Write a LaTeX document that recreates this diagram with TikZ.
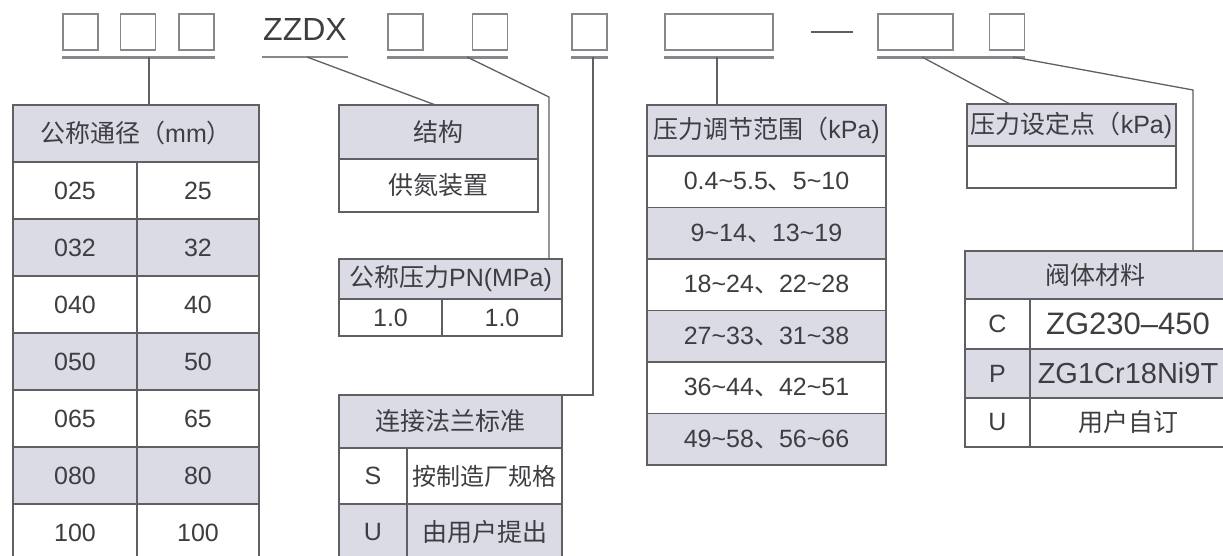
\documentclass[tikz,border=0pt]{standalone}
\usepackage{fontspec}
\setmainfont{Liberation Sans}
\newfontfamily\cjk{Noto Sans CJK SC}
\usetikzlibrary{positioning}

\newcommand\zh[1]{{\cjk #1}}
\newcommand\tld{\textasciitilde}

\definecolor{hdgray}{RGB}{218,219,229}
\definecolor{linegray}{RGB}{95,95,100}
\definecolor{txtgray}{RGB}{62,62,66}
\definecolor{boxgray}{RGB}{135,135,140}

\tikzset{
  cell/.style 2 args={draw=linegray, line width=1.6pt, fill=white, anchor=north west,
    minimum width=#1, minimum height=#2, inner sep=0pt, outer sep=0pt,
    text=txtgray, font=\fontsize{25}{28}\selectfont},
  head/.style 2 args={cell={#1}{#2}, fill=hdgray, font=\fontsize{25}{28}\selectfont},
  codebox/.style={draw=boxgray, line width=1.6pt, fill=white, minimum width=#1,
    minimum height=36pt, inner sep=0pt},
  codebox/.default=35pt,
  uline/.style={draw=boxgray, line width=2.6pt},
  link/.style={draw=linegray, line width=1.3pt},
}

\begin{document}
\begin{tikzpicture}[x=1pt, y=-1pt]
    \useasboundingbox (0,0) rectangle (1223,556);

    % Model code
    \node [codebox] (b1) at (80.5,32) {};
    \node [codebox, right=21pt of b1] (b2) {};
    \node [codebox, right=22pt of b2] (b3) {};
    \node [text=txtgray, font=\fontsize{32}{36}\selectfont, inner sep=0pt] (zzdx) at (305,29) {ZZDX};
    \node [codebox] (b4) at (405.5,32) {};
    \node [codebox, right=48pt of b4] (b5) {};
    \node [codebox] (b6) at (589.5,32) {};
    \node [codebox=108pt] (b7) at (719,32) {};
    \node [codebox=75pt] (b8) at (915.5,32) {};
    \node [codebox, right=35pt of b8] (b9) {};
    \draw [uline, draw=linegray, line width=2.2pt] (811,32) -- (853,32);

    % Underlines
    \draw [uline] ([yshift=-7pt]b1.south west) -- ([yshift=-7pt]b3.south east);
    \draw [uline] (262,57) -- (348,57);
    \draw [uline] ([yshift=-7pt]b4.south west) -- ([yshift=-7pt]b5.south east);
    \draw [uline] ([yshift=-7pt]b6.south west) -- ([yshift=-7pt]b6.south east);
    \draw [uline] ([yshift=-7pt]b7.south west) -- ([yshift=-7pt]b7.south east);
    \draw [uline] ([yshift=-7pt]b8.south west) -- ([yshift=-7pt]b9.south east);

    % Nominal diameter
    \node [head={246pt}{57pt}] (dn) at (13,105) {\zh{公称通径（}mm\zh{）}};
    \foreach \a/\b/\f [count=\i from 0] in {025/25/white, 032/32/hdgray, 040/40/white,
        050/50/hdgray, 065/65/white, 080/80/hdgray, 100/100/white} {
      \node [cell={124pt}{57pt}, fill=\f] (dnL\i) at (13,{162+57*\i}) {\a};
      \node [cell={122pt}{57pt}, fill=\f, right=0pt of dnL\i] (dnR\i) {\b};
    }

    % Structure
    \node [head={199pt}{54pt}] (jg) at (339,105) {\zh{结构}};
    \node [cell={199pt}{53pt}, below=0pt of jg] (jgv) {\zh{供氮装置}};

    % Nominal pressure
    \node [head={223pt}{40pt}] (pn) at (339,259) {\zh{公称压力}PN(MPa)};
    \node [cell={103pt}{37pt}] (pnL) at (339,299) {1.0};
    \node [cell={120pt}{37pt}, right=0pt of pnL] (pnR) {1.0};

    % Flange standard
    \node [head={223pt}{53pt}] (fl) at (339,395) {\zh{连接法兰标准}};
    \node [cell={68pt}{56pt}] (flS) at (339,448) {S};
    \node [cell={155pt}{56pt}, right=0pt of flS, font=\fontsize{24}{28}\selectfont] (flSv) {\zh{按制造厂规格}};
    \node [cell={68pt}{56pt}, fill=hdgray] (flU) at (339,504) {U};
    \node [cell={155pt}{56pt}, fill=hdgray, right=0pt of flU] (flUv) {\zh{由用户提出}};

    % Pressure range
    \node [head={239pt}{51pt}] (tj) at (647,105) {\zh{压力调节范围（}kPa)};
    \foreach \t/\f [count=\i from 0] in {0.4\tld5.5\zh{、}5\tld10/white,
        9\tld14\zh{、}13\tld19/hdgray, 18\tld24\zh{、}22\tld28/white,
        27\tld33\zh{、}31\tld38/hdgray, 36\tld44\zh{、}42\tld51/white,
        49\tld58\zh{、}56\tld66/hdgray} {
      \node [cell={239pt}{51.5pt}, fill=\f] (tj\i) at (647,{156+51.5*\i}) {\t};
    }

    % Set point
    \node [head={209pt}{42pt}] (sd) at (967,104) {\zh{压力设定点（}kPa)};
    \node [cell={209pt}{42pt}, below=0pt of sd] (sdv) {};

    % Body material
    \node [head={261pt}{48pt}] (cl) at (965,251) {\zh{阀体材料}};
    \node [cell={65pt}{50pt}] (clC) at (965,299) {C};
    \node [cell={196pt}{50pt}, right=0pt of clC, font=\fontsize{31}{34}\selectfont] (clCv) {ZG230\textendash450};
    \node [cell={65pt}{49pt}, fill=hdgray] (clP) at (965,349) {P};
    \node [cell={196pt}{49pt}, fill=hdgray, right=0pt of clP, font=\fontsize{29}{32}\selectfont] (clPv) {ZG1Cr18Ni9T};
    \node [cell={65pt}{49pt}] (clU) at (965,398) {U};
    \node [cell={196pt}{49pt}, right=0pt of clU] (clUv) {\zh{用户自订}};

    % Leader lines
    \coordinate (s1) at (149,57);
    \coordinate (s2) at (307,57);
    \coordinate (s3) at (467,57);
    \coordinate (k3) at (549,97);
    \coordinate (s4) at (593,57);
    \coordinate (s5) at (717,57);
    \coordinate (s6) at (922,57);
    \coordinate (s7) at (1013,57);
    \coordinate (k7) at (1193,90);
    \draw [link] (s1) -- (s1 |- dn.north);
    \draw [link] (s2) -- ([xshift=-3pt]jg.north);
    \draw [link] (s3) -- (k3) -- (k3 |- pn.north);
    \draw [link] (s4) |- (fl.north east);
    \draw [link] (s5) -- (s5 |- tj.north);
    \draw [link] (s6) -- ([xshift=43pt]sd.north west);
    \draw [link] (s7) -- (k7) -- (k7 |- cl.north);
\end{tikzpicture}
\end{document}
